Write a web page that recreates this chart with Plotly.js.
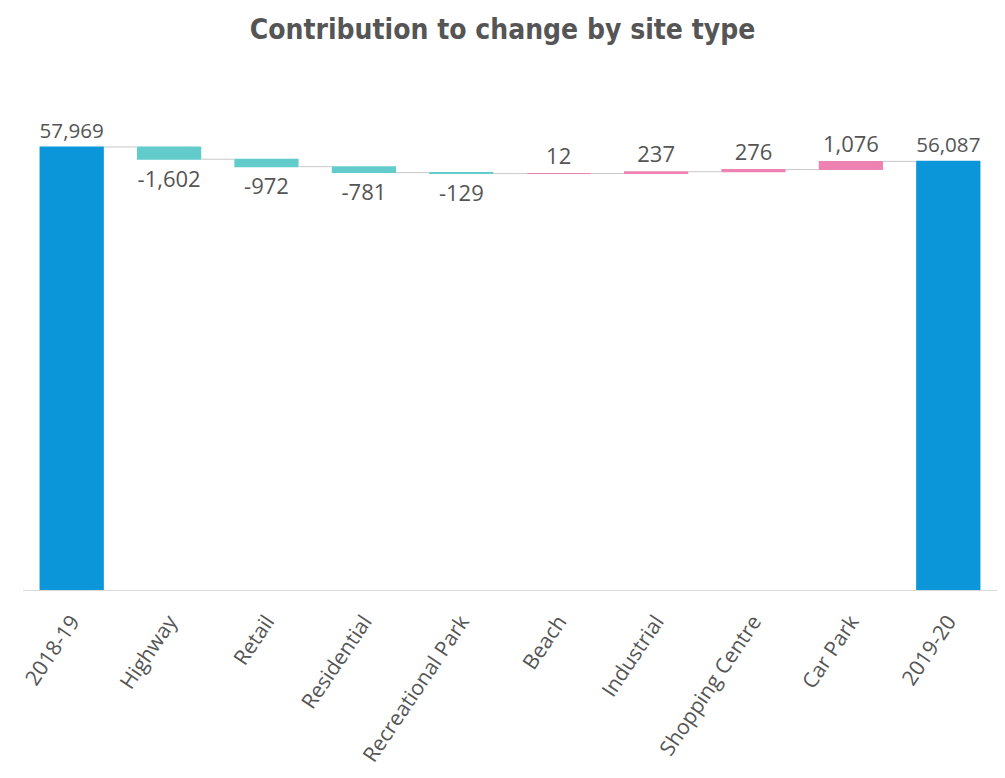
<!DOCTYPE html>
<html>
<head>
<meta charset="utf-8">
<script src="https://cdn.plot.ly/plotly-3.0.1.min.js"></script>
<style>html,body{margin:0;padding:0;background:#fff;}#chart{width:1005px;height:778px;}</style>
</head>
<body>
<div id="chart"></div>
<script>
const categories = ["2018-19","Highway","Retail","Residential","Recreational Park","Beach","Industrial","Shopping Centre","Car Park","2019-20"];
const values = [57969,-1602,-972,-781,-129,12,237,276,1076,56087];
const measures = ["absolute","relative","relative","relative","relative","relative","relative","relative","relative","absolute"];
const labels = values.map(v => v.toLocaleString("en-US"));

const trace = {
  type: "waterfall",
  x: categories,
  y: values,
  measure: measures,
  text: labels,
  textposition: "outside",
  textinfo: "text",
  cliponaxis: false,
  textfont: {family: "Open Sans, sans-serif", size: 22, color: "#555"},
  outsidetextfont: {family: "Open Sans, sans-serif", size: 22, color: "#555"},
  width: 0.66,
  totals: {marker: {color: "#0A96D8"}},
  decreasing: {marker: {color: "#62CBCB"}},
  increasing: {marker: {color: "#EE82B2"}},
  connector: {line: {color: "#c8c8c8", width: 1}},
  hoverinfo: "x+y"
};

const layout = {
  width: 1005,
  height: 778,
  margin: {l: 23, r: 8, t: 120, b: 188},
  paper_bgcolor: "#fff",
  plot_bgcolor: "#fff",
  showlegend: false,
  title: {
    text: "<b>Contribution to change by site type</b>",
    x: 0.5, xanchor: "center", y: 0.962, yanchor: "middle",
    font: {family: "DejaVu Sans Condensed, Roboto, sans-serif", size: 28, color: "#555"}
  },
  xaxis: {
    type: "category",
    tickangle: -56,
    ticklabelstandoff: 10,
    tickfont: {family: "Open Sans, sans-serif", size: 21, color: "#555"},
    showline: true, linecolor: "#d9d9d9", linewidth: 1,
    ticks: "", showgrid: false, zeroline: false
  },
  yaxis: {
    range: [0, 61500],
    visible: false,
    showgrid: false, zeroline: false
  }
};

Plotly.newPlot("chart", [trace], layout, {displayModeBar: false, staticPlot: true});
</script>
</body>
</html>
